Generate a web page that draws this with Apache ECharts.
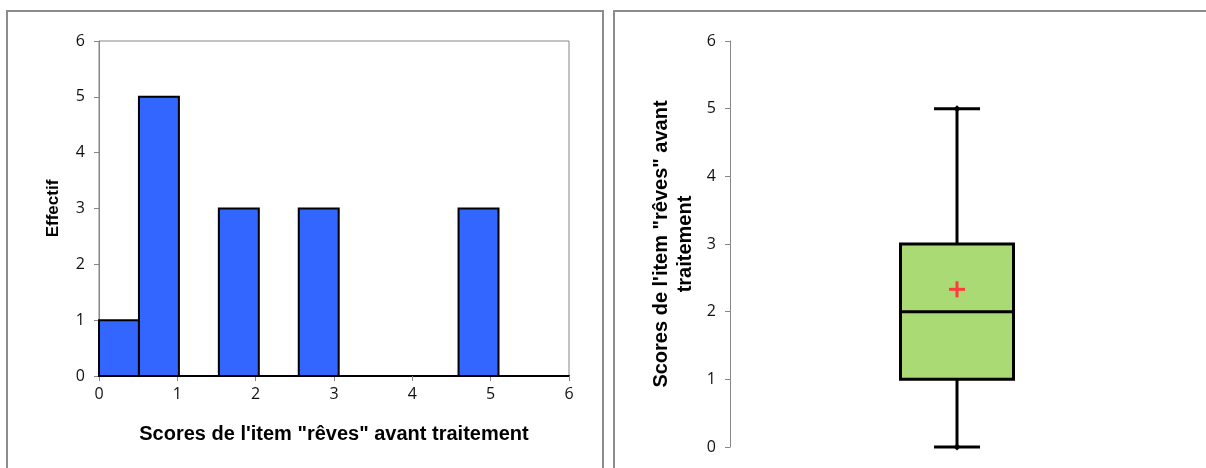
<!DOCTYPE html>
<html>
<head>
<meta charset="utf-8">
<script src="https://cdn.jsdelivr.net/npm/echarts@6/dist/echarts.min.js"></script>
<style>html,body{margin:0;padding:0;background:#fff;}#c{width:1206px;height:468px;}</style>
</head>
<body>
<div id="c"></div>
<script>
// Histogram bins (edges) and counts
const histEdges = [0, 0.51, 1.02, 1.53, 2.04, 2.55, 3.06, 3.57, 4.08, 4.59, 5.1];
const histCounts = [1, 5, 0, 3, 0, 3, 0, 0, 0, 3];
const xTicks = [0, 1, 2, 3, 4, 5, 6];
const yTicks = [0, 1, 2, 3, 4, 5, 6];
// Box plot: min, Q1, median, Q3, max and mean
const boxValues = [0, 1, 2, 3, 5];
const boxMean = [2.33];
const xTitle = 'Scores de l\'item "rêves" avant traitement';
const yTitleLeft = 'Effectif';
const yTitleRight = 'Scores de l\'item "rêves" avant\ntraitement';

const histData = histCounts.map((c, i) => [histEdges[i], histEdges[i + 1], c]);

const chart = echarts.init(document.getElementById('c'), null, {renderer: 'canvas'});
const gray = '#868686';
const tickFont = {color: '#111', fontSize: 16, fontFamily: 'Open Sans'};
const titleFont = {color: '#000', fontSize: 20, fontWeight: 'bold', fontFamily: 'Liberation Sans'};

chart.setOption({
  animation: false,
  graphic: [
    {type: 'rect', shape: {x: 7, y: 11, width: 596, height: 480}, style: {fill: 'none', stroke: '#8c8c8c', lineWidth: 2}, silent: true},
    {type: 'rect', shape: {x: 614, y: 11, width: 620, height: 480}, style: {fill: 'none', stroke: '#8c8c8c', lineWidth: 2}, silent: true}
  ],
  grid: [
    {left: 99, top: 41, width: 470, height: 335, show: true, borderColor: gray, borderWidth: 1, backgroundColor: 'transparent'},
    {left: 730, top: 41, width: 454, height: 406}
  ],
  xAxis: [
    {gridIndex: 0, type: 'value', min: 0, max: 6, interval: 1, position: 'bottom',
     axisLine: {lineStyle: {color: '#000', width: 2}},
     axisTick: {show: true, length: 5, lineStyle: {color: gray}},
     axisLabel: Object.assign({margin: 10, formatter: v => xTicks.includes(v) ? String(v) : ''}, tickFont),
     splitLine: {show: false},
     name: xTitle, nameLocation: 'middle', nameGap: 48, nameTextStyle: titleFont},
    {gridIndex: 1, type: 'category', data: ['A'], show: false}
  ],
  yAxis: [
    {gridIndex: 0, type: 'value', min: 0, max: 6, interval: 1,
     axisLine: {show: true, lineStyle: {color: gray, width: 1}},
     axisTick: {show: true, length: 5, lineStyle: {color: gray}},
     axisLabel: Object.assign({margin: 14, formatter: v => yTicks.includes(v) ? String(v) : ''}, tickFont),
     splitLine: {show: false},
     name: yTitleLeft, nameLocation: 'middle', nameGap: 37, nameRotate: 90,
     nameTextStyle: Object.assign({}, titleFont, {fontSize: 17})},
    {gridIndex: 1, type: 'value', min: 0, max: 6, interval: 1,
     axisLine: {show: true, lineStyle: {color: gray, width: 1}},
     axisTick: {show: true, length: 5, lineStyle: {color: gray}},
     axisLabel: Object.assign({margin: 14, formatter: v => yTicks.includes(v) ? String(v) : ''}, tickFont),
     splitLine: {show: false},
     name: yTitleRight, nameLocation: 'middle', nameGap: 33, nameRotate: 90,
     nameTextStyle: Object.assign({lineHeight: 24, align: 'center'}, titleFont)}
  ],
  series: [
    {type: 'custom', xAxisIndex: 0, yAxisIndex: 0, data: histData, z: 3,
     renderItem: function (params, api) {
       const p0 = api.coord([api.value(0), api.value(2)]);
       const p1 = api.coord([api.value(1), 0]);
       if (api.value(2) === 0) return null;
       return {type: 'rect', shape: {x: p0[0], y: p0[1], width: p1[0] - p0[0], height: p1[1] - p0[1]},
               style: {fill: '#3366FF', stroke: '#000', lineWidth: 2}};
     }},
    {type: 'custom', xAxisIndex: 1, yAxisIndex: 1, data: [[0].concat(boxValues).concat(boxMean)], z: 3,
     renderItem: function (params, api) {
       const cx = api.coord([0, 0])[0];
       const y = k => api.coord([0, api.value(k)])[1];
       const yMin = y(1), yQ1 = y(2), yMed = y(3), yQ3 = y(4), yMax = y(5), yMean = y(6);
       const bw = 113, cw = 46, ds = 3.5, ps = 8;
       const ln = {stroke: '#000', lineWidth: 3};
       const dia = (yy) => ({type: 'polygon', shape: {points: [[cx, yy - ds], [cx + ds, yy], [cx, yy + ds], [cx - ds, yy]]}, style: {fill: '#000'}});
       return {type: 'group', children: [
         {type: 'line', shape: {x1: cx, y1: yMax, x2: cx, y2: yQ3}, style: ln},
         {type: 'line', shape: {x1: cx, y1: yQ1, x2: cx, y2: yMin}, style: ln},
         {type: 'line', shape: {x1: cx - cw / 2, y1: yMax, x2: cx + cw / 2, y2: yMax}, style: ln},
         {type: 'line', shape: {x1: cx - cw / 2, y1: yMin, x2: cx + cw / 2, y2: yMin}, style: ln},
         dia(yMax), dia(yMin),
         {type: 'rect', shape: {x: cx - bw / 2, y: yQ3, width: bw, height: yQ1 - yQ3}, style: {fill: '#A9DA74', stroke: '#000', lineWidth: 3}},
         {type: 'line', shape: {x1: cx - bw / 2, y1: yMed, x2: cx + bw / 2, y2: yMed}, style: ln},
         {type: 'line', shape: {x1: cx - ps, y1: yMean, x2: cx + ps, y2: yMean}, style: {stroke: '#FF3B3B', lineWidth: 3}},
         {type: 'line', shape: {x1: cx, y1: yMean - ps, x2: cx, y2: yMean + ps}, style: {stroke: '#FF3B3B', lineWidth: 3}}
       ]};
     }}
  ]
});
</script>
</body>
</html>
